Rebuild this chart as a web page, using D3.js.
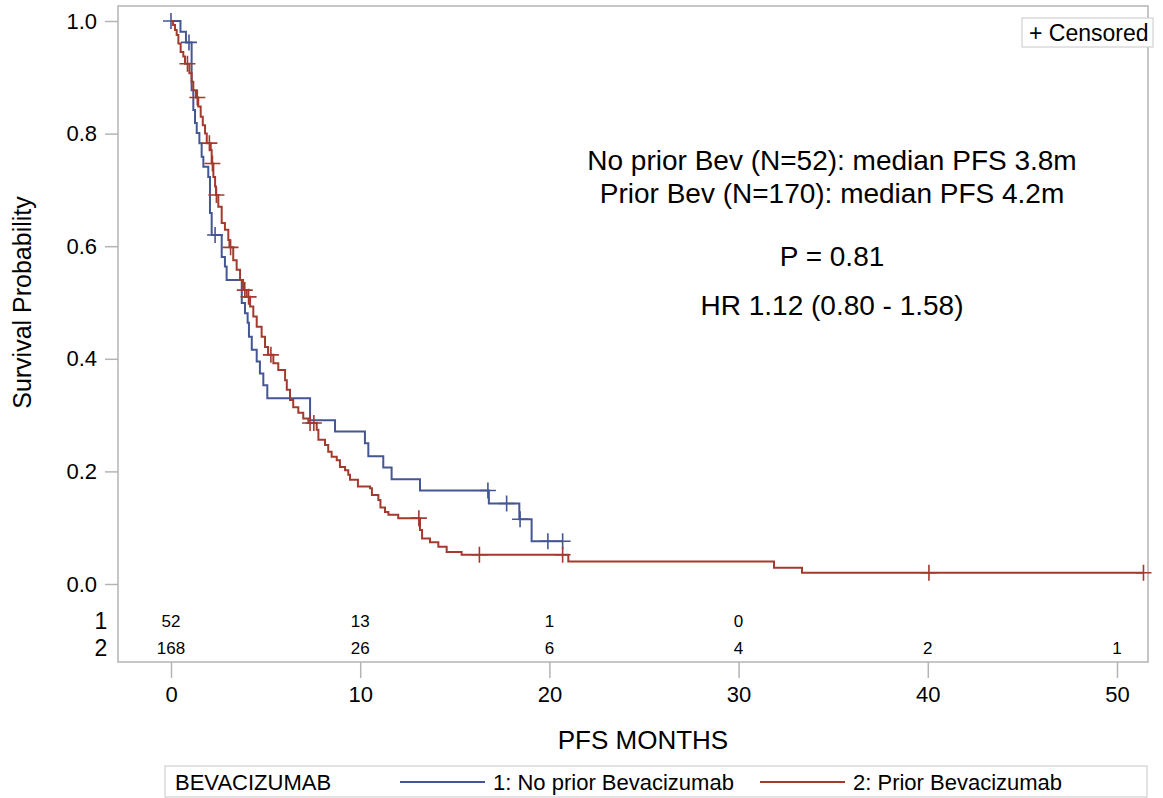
<!DOCTYPE html>
<html>
<head>
<meta charset="utf-8">
<script src="https://cdn.jsdelivr.net/npm/d3@7"></script>
<style>
	body { margin: 0; background: #fff; }
	text { font-family: "Liberation Sans", Arial, sans-serif; fill: #000; }
</style>
</head>
<body>
<svg id="chart"></svg>
<script>
// KM steps: [months, survival after the drop]
var noPriorSteps = [
	[0.50, 0.981], [0.79, 0.962], [1.09, 0.877], [1.18, 0.842], [1.27, 0.819],
	[1.36, 0.801], [1.50, 0.783], [1.62, 0.759], [1.71, 0.741], [1.97, 0.723],
	[2.06, 0.659], [2.15, 0.620], [2.68, 0.581], [2.85, 0.564], [2.94, 0.540],
	[3.74, 0.499], [3.91, 0.481], [4.05, 0.464], [4.12, 0.439], [4.27, 0.416],
	[4.53, 0.395], [4.70, 0.374], [4.88, 0.353], [5.09, 0.330], [7.35, 0.291],
	[8.67, 0.271], [10.25, 0.250], [10.43, 0.227], [11.22, 0.207], [11.66, 0.186],
	[13.16, 0.166], [16.80, 0.143], [18.41, 0.115], [19.06, 0.076]
];
var noPriorCensor = [0, 0.95, 2.33, 16.75, 17.74, 18.45, 19.92, 20.7];
var noPriorEnd = 20.7;

var priorSteps = [
	[0.11, 0.993], [0.21, 0.984], [0.30, 0.975], [0.39, 0.960], [0.51, 0.945],
	[0.65, 0.937], [0.74, 0.924], [0.97, 0.907], [1.09, 0.892], [1.18, 0.877],
	[1.32, 0.864], [1.44, 0.848], [1.57, 0.830], [1.68, 0.815], [1.80, 0.800],
	[1.89, 0.783], [2.10, 0.771], [2.15, 0.747], [2.24, 0.723], [2.33, 0.706],
	[2.38, 0.691], [2.50, 0.670], [2.68, 0.641], [2.85, 0.629], [3.03, 0.611],
	[3.09, 0.598], [3.29, 0.575], [3.47, 0.558], [3.65, 0.540], [3.81, 0.522],
	[4.00, 0.510], [4.18, 0.493], [4.35, 0.475], [4.53, 0.457], [4.79, 0.439],
	[4.97, 0.421], [5.13, 0.407], [5.41, 0.392], [5.67, 0.380], [6.03, 0.362],
	[6.12, 0.345], [6.29, 0.327], [6.46, 0.314], [6.73, 0.304], [6.99, 0.294],
	[7.26, 0.286], [7.70, 0.274], [7.79, 0.256], [8.14, 0.247], [8.31, 0.235],
	[8.49, 0.226], [8.76, 0.220], [8.93, 0.208], [9.20, 0.202], [9.37, 0.194],
	[9.46, 0.185], [9.88, 0.173], [10.52, 0.170], [10.62, 0.158], [10.96, 0.149],
	[11.07, 0.136], [11.31, 0.128], [11.49, 0.123], [12.01, 0.117], [13.16, 0.096],
	[13.27, 0.081], [13.69, 0.074], [14.13, 0.066], [14.57, 0.057], [15.36, 0.052],
	[21.00, 0.040], [31.87, 0.029], [33.35, 0.020]
];
var priorCensor = [0.87, 1.39, 2.03, 2.19, 2.40, 3.15, 3.90, 4.10, 5.28, 7.35, 7.55,
	13.10, 16.30, 20.70, 40.06, 51.40];
var priorEnd = 51.4;

var riskTimes = [0, 10, 20, 30, 40, 50];
var riskNoPrior = [52, 13, 1, 0];
var riskPrior = [168, 26, 6, 4, 2, 1];
var riskRows = ['1', '2'];

var xTicks = [0, 10, 20, 30, 40, 50];
var yTicks = [0, 0.2, 0.4, 0.6, 0.8, 1.0];
var notes = ['No prior Bev (N=52): median PFS 3.8m', 'Prior Bev (N=170): median PFS 4.2m',
	'P = 0.81', 'HR 1.12 (0.80 - 1.58)'];
var groupTitle = 'BEVACIZUMAB';
var groupNames = ['1: No prior Bevacizumab', '2: Prior Bevacizumab'];

var width = 1163,
	height = 798,
	frame = { left: 118, top: 6, right: 1148, bottom: 662 },
	blue = '#445694',
	red = '#A23A2E',
	gray = '#b4b4b4';

var svg = d3.select('#chart')
	.attr('width', width)
	.attr('height', height);

var xScale = d3.scaleLinear().domain([0, 50]).range([171, 1117]),
	yScale = d3.scaleLinear().domain([0, 1]).range([584, 21]);

// frame
svg.append('rect')
	.attr('x', frame.left)
	.attr('y', frame.top)
	.attr('width', frame.right - frame.left)
	.attr('height', frame.bottom - frame.top)
	.attr('fill', 'none')
	.attr('stroke', gray)
	.attr('stroke-width', 1.5);

// axes
var yAxis = d3.axisLeft(yScale).tickValues(yTicks).tickFormat(d3.format('.1f'))
	.tickSize(13).tickPadding(8);
var xAxis = d3.axisBottom(xScale).tickValues(xTicks).tickSize(16).tickPadding(8);

var yAxisG = svg.append('g')
	.attr('transform', 'translate(' + frame.left + ',0)')
	.call(yAxis);
var xAxisG = svg.append('g')
	.attr('transform', 'translate(0,' + frame.bottom + ')')
	.call(xAxis);

[yAxisG, xAxisG].forEach(function(g) {
	g.select('.domain').remove();
	g.selectAll('.tick line').attr('stroke', gray).attr('stroke-width', 1.5);
	g.selectAll('.tick text')
		.attr('fill', '#000')
		.style('font-size', '22px')
		.style('font-family', '"Liberation Sans", Arial, sans-serif');
});

svg.append('text')
	.attr('transform', 'translate(31,' + ((yScale(0) + yScale(1)) / 2) + ') rotate(-90)')
	.attr('text-anchor', 'middle')
	.style('font-size', '25px')
	.text('Survival Probability');

svg.append('text')
	.attr('x', (frame.left + frame.right) / 2 + 10)
	.attr('y', 749)
	.attr('text-anchor', 'middle')
	.style('font-size', '26px')
	.text('PFS MONTHS');

// curves
function survivalAt(steps, t) {
	var s = 1;
	steps.forEach(function(d) { if (d[0] <= t) s = d[1]; });
	return s;
}

var line = d3.line()
	.x(function(d) { return xScale(d[0]); })
	.y(function(d) { return yScale(d[1]); })
	.curve(d3.curveStepAfter);

var groups = [
	{ steps: noPriorSteps, censor: noPriorCensor, end: noPriorEnd, color: blue },
	{ steps: priorSteps, censor: priorCensor, end: priorEnd, color: red }
];

groups.forEach(function(g) {
	var pts = [[0, 1]].concat(g.steps);
	pts.push([g.end, g.steps[g.steps.length - 1][1]]);

	svg.append('path')
		.datum(pts)
		.attr('d', line)
		.attr('fill', 'none')
		.attr('stroke', g.color)
		.attr('stroke-width', 2);

	svg.append('g').selectAll('path')
		.data(g.censor)
		.enter().append('path')
		.attr('d', function(t) {
			var cx = xScale(t), cy = yScale(survivalAt(g.steps, t)), r = 8;
			return 'M' + (cx - r) + ',' + cy + 'H' + (cx + r) + 'M' + cx + ',' + (cy - r) + 'V' + (cy + r);
		})
		.attr('stroke', g.color)
		.attr('stroke-width', 1.6);
});

// numbers at risk
var riskY = [621, 648];
[riskNoPrior, riskPrior].forEach(function(row, i) {
	svg.append('text')
		.attr('x', 101)
		.attr('y', riskY[i] + 8)
		.attr('text-anchor', 'middle')
		.style('font-size', '23px')
		.text(riskRows[i]);
	svg.append('g').selectAll('text')
		.data(row)
		.enter().append('text')
		.attr('x', function(d, j) { return xScale(riskTimes[j]); })
		.attr('y', riskY[i] + 6)
		.attr('text-anchor', 'middle')
		.style('font-size', '17px')
		.text(function(d) { return d; });
});

// annotation
var noteY = [170, 203, 266, 315];
svg.append('g').selectAll('text')
	.data(notes)
	.enter().append('text')
	.attr('x', 832)
	.attr('y', function(d, i) { return noteY[i]; })
	.attr('text-anchor', 'middle')
	.style('font-size', '28px')
	.text(function(d) { return d; });

// censored key
svg.append('rect')
	.attr('x', 1022).attr('y', 18).attr('width', 131).attr('height', 29)
	.attr('fill', '#fff').attr('stroke', '#c8c8c8');
svg.append('text')
	.attr('x', 1029).attr('y', 41)
	.style('font-size', '23px')
	.text('+ Censored');

// group legend
svg.append('rect')
	.attr('x', 165).attr('y', 766).attr('width', 982).attr('height', 31)
	.attr('fill', '#fff').attr('stroke', '#c8c8c8');
svg.append('text')
	.attr('x', 175).attr('y', 790)
	.style('font-size', '22px')
	.text(groupTitle);

var legendItems = [
	{ x1: 400, x2: 485, tx: 493, color: blue, label: groupNames[0] },
	{ x1: 760, x2: 845, tx: 853, color: red, label: groupNames[1] }
];
legendItems.forEach(function(d) {
	svg.append('line')
		.attr('x1', d.x1).attr('x2', d.x2).attr('y1', 782).attr('y2', 782)
		.attr('stroke', d.color).attr('stroke-width', 2);
	svg.append('text')
		.attr('x', d.tx).attr('y', 790)
		.style('font-size', '22px')
		.text(d.label);
});
</script>
</body>
</html>
